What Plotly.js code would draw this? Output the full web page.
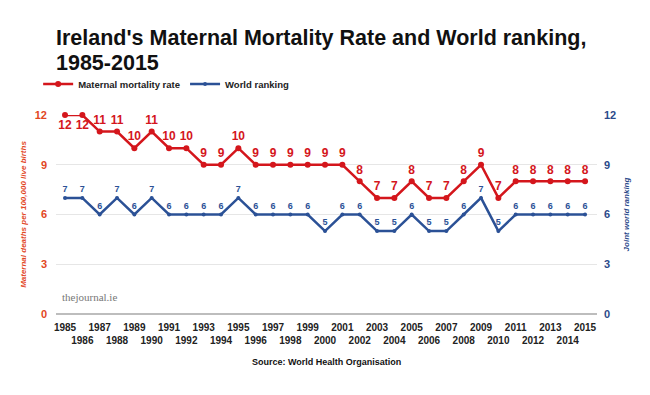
<!DOCTYPE html>
<html><head><meta charset="utf-8">
<script src="https://cdn.plot.ly/plotly-3.0.1.min.js"></script>
<style>html,body{margin:0;padding:0;background:#fff}#chart{width:650px;height:395px}</style>
</head><body><div id="chart"></div>
<script>
const years = [1985,1986,1987,1988,1989,1990,1991,1992,1993,1994,1995,1996,1997,1998,1999,2000,2001,2002,2003,2004,2005,2006,2007,2008,2009,2010,2011,2012,2013,2014,2015];
const mortality = [12,12,11,11,10,11,10,10,9,9,10,9,9,9,9,9,9,8,7,7,8,7,7,8,9,7,8,8,8,8,8];
const ranking = [7,7,6,7,6,7,6,6,6,6,7,6,6,6,6,5,6,6,5,5,6,5,5,6,7,5,6,6,6,6,6];
const tickLabels = years.map(y => (y % 2 === 1 ? String(y) : '<br>' + y));

const red = '#d4161c', blue = '#2b5196';
const font = 'Liberation Sans, Arial, sans-serif';
const plotTop = 115, plotBottom = 314, plotH = plotBottom - plotTop;
const py = px => (plotBottom - px) / plotH;

const traces = [
  {x: years, y: mortality, name: 'Maternal mortality rate', mode: 'lines+markers+text',
   line: {color: red, width: 2.5}, marker: {color: red, size: 6},
   text: mortality.map(String),
   textposition: mortality.map((v, i) => i < 2 ? 'bottom center' : 'top center'),
   textfont: {family: font, size: 12, color: red, weight: 'bold'},
   cliponaxis: false, yaxis: 'y'},
  {x: years, y: ranking, name: 'World ranking', mode: 'lines+markers+text',
   line: {color: blue, width: 2.5}, marker: {color: blue, size: 4},
   text: ranking.map(String), textposition: 'top center',
   textfont: {family: font, size: 9, color: blue, weight: 'bold'},
   cliponaxis: false, yaxis: 'y2'}
];

const layout = {
  width: 650, height: 395,
  margin: {l: 56, r: 53, t: plotTop, b: 395 - plotBottom},
  paper_bgcolor: '#fff', plot_bgcolor: '#fff',
  font: {family: font},
  showlegend: true,
  legend: {orientation: 'h', x: -0.033, xanchor: 'left', y: py(84), yanchor: 'middle',
           font: {family: font, size: 9.5, color: '#222', weight: 'bold'},
           itemwidth: 30, bgcolor: 'rgba(0,0,0,0)', tracegroupgap: 0},
  xaxis: {range: [1984.48, 2015.69], tickvals: years, ticktext: tickLabels,
          tickangle: 0, showgrid: false, zeroline: false, showline: false, ticks: '',
          ticklabelstandoff: 6,
          tickfont: {family: font, size: 10, color: '#222', weight: 'bold'}},
  yaxis: {range: [0, 12], tickvals: [0,3,6,9,12], showgrid: true, gridcolor: '#e6e6e6',
          zeroline: true, zerolinecolor: '#bdbdbd', zerolinewidth: 2,
          ticks: '', ticklabelstandoff: 8,
          tickfont: {family: font, size: 11, color: '#e2471f', weight: 'bold'},
          title: {text: '<i><b>Maternal deaths per 100,000 live births</b></i>', standoff: 6,
                  font: {family: font, size: 8, color: '#e2471f'}}},
  yaxis2: {range: [0, 12], tickvals: [0,3,6,9,12], overlaying: 'y', side: 'right',
           showgrid: false, zeroline: false, ticks: '', ticklabelstandoff: 6,
           tickfont: {family: font, size: 11, color: '#2b4a8a', weight: 'bold'},
           title: {text: '<i><b>Joint world ranking</b></i>', standoff: 8,
                   font: {family: font, size: 8, color: '#2b4a8a'}}},
  annotations: [
    {text: "<b>Ireland's Maternal Mortality Rate and World ranking,</b>", xref: 'paper', yref: 'paper',
     x: 0, y: py(38), xanchor: 'left', yanchor: 'middle', showarrow: false, xshift: -2,
     font: {family: font, size: 21.5, color: '#111'}},
    {text: '<b>1985-2015</b>', xref: 'paper', yref: 'paper',
     x: 0, y: py(63), xanchor: 'left', yanchor: 'middle', showarrow: false, xshift: -2,
     font: {family: font, size: 21.5, color: '#111'}},
    {text: '<b>Source: World Health Organisation</b>', xref: 'paper', yref: 'paper',
     x: 0.5, y: py(362), xanchor: 'center', yanchor: 'middle', showarrow: false,
     font: {family: font, size: 9, color: '#111'}},
    {text: 'thejournal.ie', xref: 'paper', yref: 'paper', x: 4/541, xanchor: 'left',
     y: py(297), yanchor: 'middle', showarrow: false,
     font: {family: 'Liberation Serif, serif', size: 11, color: '#777'}}
  ]
};

Plotly.newPlot('chart', traces, layout, {displayModeBar: false, staticPlot: true});
</script></body></html>
